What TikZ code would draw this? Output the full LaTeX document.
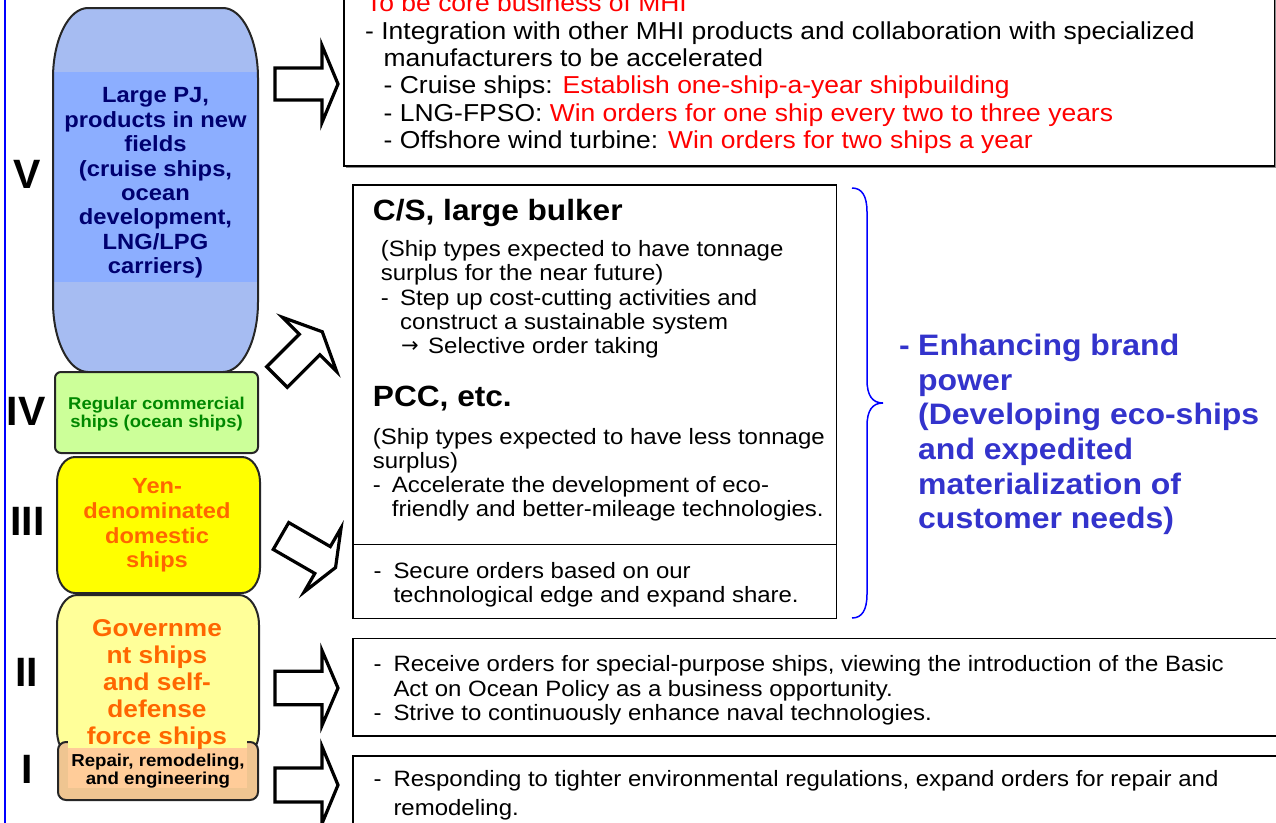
\documentclass[tikz,border=0pt]{standalone}
\usepackage{fontspec}
\setmainfont{Liberation Sans}[FakeStretch=1.08]
\newfontfamily\numfont{Liberation Sans}
\newfontfamily\symfont{DejaVu Sans}
\definecolor{vfill}{HTML}{A6BCF2}
\definecolor{vsolid}{HTML}{8CAEFF}
\definecolor{vtext}{HTML}{000070}
\definecolor{ivfill}{HTML}{CCFF99}
\definecolor{ivtext}{HTML}{008800}
\definecolor{iiifill}{HTML}{FFFF00}
\definecolor{orangetext}{HTML}{FF6600}
\definecolor{iifill}{HTML}{FFFF99}
\definecolor{ifill}{HTML}{EFC591}
\definecolor{isolid}{HTML}{FFCC99}
\definecolor{brandblue}{HTML}{3333CC}
\definecolor{redtext}{HTML}{FF0000}
\newcommand{\ellshape}[7]{%
 \path[#7] ({#1+#5},#2) -- ({#3-#5},#2)
 .. controls ({#3-0.4477*#5},#2) and (#3,{#2+0.4477*#6}) .. (#3,{#2+#6})
 -- (#3,{#4-#6})
 .. controls (#3,{#4-0.4477*#6}) and ({#3-0.4477*#5},#4) .. ({#3-#5},#4)
 -- ({#1+#5},#4)
 .. controls ({#1+0.4477*#5},#4) and (#1,{#4-0.4477*#6}) .. (#1,{#4-#6})
 -- (#1,{#2+#6})
 .. controls (#1,{#2+0.4477*#6}) and ({#1+0.4477*#5},#2) .. ({#1+#5},#2) -- cycle;}
\newcommand{\blockarr}[7]{%
 \begin{scope}[shift={(#1,#2)}, rotate=#3]
  \draw[blockarrow] (0,-#5) -- (#4,-#5) -- (#4,-#7) -- ({#4+#6},0) -- (#4,#7) -- (#4,#5) -- (0,#5) -- cycle;
 \end{scope}}
\tikzset{
 toptxt/.style={anchor=base west, inner sep=0pt, font=\fontsize{24.5}{27}\selectfont},
 txt/.style={anchor=base west, inner sep=0pt, font=\fontsize{22.2}{24}\selectfont},
 headtxt/.style={anchor=base west, inner sep=0pt, font=\bfseries\fontsize{29.3}{32}\selectfont},
 brand/.style={anchor=base west, inner sep=0pt, text=brandblue, font=\bfseries\fontsize{29.6}{34.6}\selectfont},
 numeral/.style={anchor=base, inner sep=0pt, font=\numfont\bfseries\fontsize{41}{41}\selectfont},
 boxline/.style={draw=black, line width=1.8pt, fill=white},
 blockarrow/.style={draw=black, line width=3.2pt, fill=white, line join=miter},
 shapeline/.style={draw=black!85, line width=2pt},
 lefttxt/.style={align=center, inner sep=0pt},
}
\begin{document}
\begin{tikzpicture}[x=1pt,y=-1pt]
\useasboundingbox (0,0) rectangle (1276,822);
\clip (0,0) rectangle (1276,822);
\fill[white] (0,0) rectangle (1276,822);
\coordinate (bluetop) at (5,-5);
\coordinate (bluebot) at (5,830);
\draw[blue, line width=2pt] (bluetop) -- (bluebot);

% right-hand boxes
\fill[black!45] (346,-20) rectangle (1277,168);
\draw[boxline] (344,-20) rectangle (1274.5,166);
\draw[boxline] (353,185) rectangle (836.5,618.5);
\draw[line width=1.8pt] (353,544.5) -- (836.5,544.5);
\draw[boxline] (353,638.5) rectangle (1290,736);
\draw[boxline] (353,756) rectangle (1290,840);

% block arrows
\blockarr{275}{84}{0}{47}{16}{16}{38.5}
\blockarr{277}{377}{45}{46}{14.5}{18}{38.5}
\blockarr{281}{536}{-30}{48}{15.5}{15}{37}
\blockarr{275}{688}{0}{47}{16.7}{16}{37.5}
\blockarr{275}{785}{0}{47}{17}{16}{38.5}

% brace
\draw[blue, line width=1.5pt] (852,188) .. controls (862,188) and (867,196) .. (867,212) -- (867,380) .. controls (867,395) and (872,403) .. (883,403) .. controls (872,403) and (867,411) .. (867,426) -- (867,594) .. controls (867,610) and (862,618) .. (852,618);

% brand text
\node[brand] (bdash) at (899,355.6) {-};
\node[brand] (b1) at (918,355.6) {Enhancing brand};
\node[brand] (b2) at (918,390.2) {power};
\node[brand] (b3) at (918,424.8) {(Developing eco-ships};
\node[brand] (b4) at (918,459.4) {and expedited};
\node[brand] (b5) at (918,494) {materialization of};
\node[brand] (b6) at (918,528.6) {customer needs)};

% left column shapes
\ellshape{53}{8}{258}{372}{35}{70}{fill=vfill}
\fill[vsolid] (54,72) rectangle (257,282);
\ellshape{53}{8}{258}{372}{35}{70}{shapeline}
\node[lefttxt, text=vtext, font=\bfseries\fontsize{22}{24.4}\selectfont] (vtxt) at (155.5,183) {Large PJ,\\products in new\\fields\\(cruise ships,\\ocean\\development,\\LNG/LPG\\carriers)};

\draw[shapeline, fill=ivfill, rounded corners=6] (55,372) rectangle (258,453);
\node[lefttxt, text=ivtext, font=\bfseries\fontsize{17.1}{18.3}\selectfont] (ivtxt) at (156.5,414) {Regular commercial\\ships (ocean ships)};

\ellshape{57}{457}{260}{593}{18}{25}{shapeline, fill=iiifill}
\node[lefttxt, text=orangetext, font=\bfseries\fontsize{21.9}{24.7}\selectfont] (iiitxt) at (157,525.5) {Yen-\\denominated\\domestic\\ships};

\ellshape{57}{595}{259}{760}{20}{30}{shapeline, fill=iifill}
\draw[shapeline, fill=ifill, rounded corners=8] (58,742) rectangle (258,800);
\fill[iifill] (68,606) rectangle (247,748);
\fill[isolid] (68,748) rectangle (247,788);
\node[lefttxt, text=orangetext, font=\bfseries\fontsize{24.3}{27}\selectfont] (iitxt) at (157,684.5) {Governme\\nt ships\\and self-\\defense\\force ships};
\node[lefttxt, text=black, font=\bfseries\fontsize{17.3}{18.3}\selectfont] (itxt) at (158,771) {Repair, remodeling,\\and engineering};

% numerals
\node[numeral] (nV) at (27.5,188.5) {V};
\node[numeral] (nIV) at (26,425) {IV};
\node[numeral] (nIII) at (27.5,535) {III};
\node[numeral] (nII) at (26.7,686) {II};
\node[numeral] (nI) at (26.7,783) {I};

% top box text
\node[toptxt, text=redtext] (t0) at (366,11.7) {To be core business of MHI};
\node[toptxt] (t1) at (365,39.3) {- Integration with other MHI products and collaboration with specialized};
\node[toptxt] (t2) at (383.5,66.5) {manufacturers to be accelerated};
\node[toptxt] (t3) at (383.5,93.5) {- Cruise ships: \textcolor{redtext}{Establish one-ship-a-year shipbuilding}};
\node[toptxt] (t4) at (383.5,121) {- LNG-FPSO: \textcolor{redtext}{Win orders for one ship every two to three years}};
\node[toptxt] (t5) at (383.5,148.3) {- Offshore wind turbine: \textcolor{redtext}{Win orders for two ships a year}};

% C/S box text
\node[headtxt] (h1) at (372.7,220) {C/S, large bulker};
\node[txt] (c1) at (380.7,256.7) {(Ship types expected to have tonnage};
\node[txt] (c2) at (380.7,280.9) {surplus for the near future)};
\node[txt] (c3d) at (380.7,305) {-};
\node[txt] (c3) at (400,305) {Step up cost-cutting activities and};
\node[txt] (c4) at (400,329.2) {construct a sustainable system};
\node[anchor=base west, inner sep=0pt, font=\symfont\fontsize{21}{21}\selectfont] (c5a) at (401,352) {→};
\node[txt] (c5) at (428,353.4) {Selective order taking};
\node[headtxt] (h2) at (372.7,406) {PCC, etc.};
\node[txt] (p1) at (372.7,444.5) {(Ship types expected to have less tonnage};
\node[txt] (p2) at (372.7,468) {surplus)};
\node[txt] (p3d) at (372.7,492) {-};
\node[txt] (p3) at (391.7,492) {Accelerate the development of eco-};
\node[txt] (p4) at (391.7,516) {friendly and better-mileage technologies.};
\node[txt] (s1d) at (373.3,578) {-};
\node[txt] (s1) at (393.3,578) {Secure orders based on our};
\node[txt] (s2) at (393.3,602) {technological edge and expand share.};

% box II text
\node[txt] (g1d) at (373.3,671.5) {-};
\node[txt] (g1) at (393.3,671.5) {Receive orders for special-purpose ships, viewing the introduction of the Basic};
\node[txt] (g2) at (393.3,696) {Act on Ocean Policy as a business opportunity.};
\node[txt] (g3d) at (373.3,720) {-};
\node[txt] (g3) at (393.3,720) {Strive to continuously enhance naval technologies.};

% box I text
\node[txt] (r1d) at (373.3,786.5) {-};
\node[txt] (r1) at (393.3,786.5) {Responding to tighter environmental regulations, expand orders for repair and};
\node[txt] (r2) at (393.3,815) {remodeling.};
\end{tikzpicture}
\end{document}
